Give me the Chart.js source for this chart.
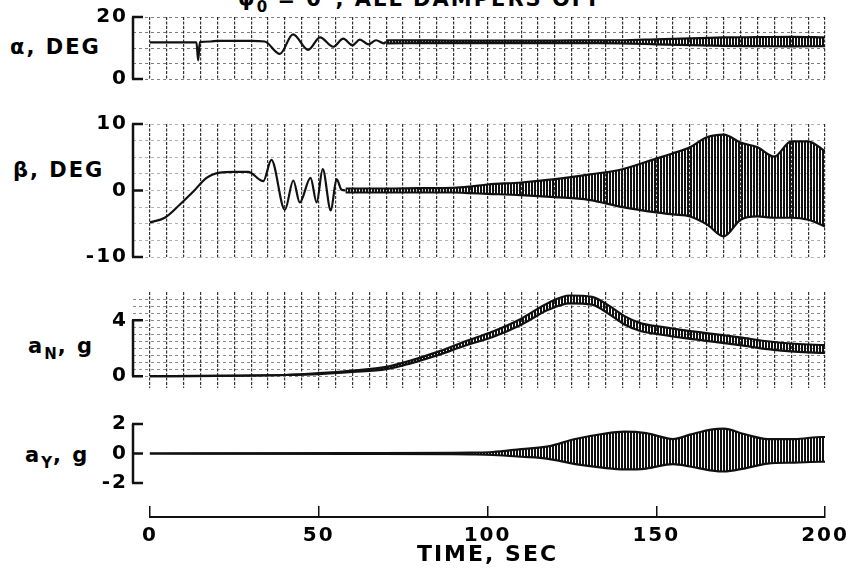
<!DOCTYPE html>
<html>
<head>
<meta charset="utf-8">
<script src="https://cdn.jsdelivr.net/npm/chart.js@4.4.1/dist/chart.umd.min.js"></script>
<style>
  body { margin: 0; background: #fff; width: 857px; height: 583px; overflow: hidden; position: relative; font-family: 'DejaVu Sans', sans-serif; color: #000; }
  .box { position: absolute; left: 0; width: 857px; }
  .lbl { position: absolute; font-size: 21px; font-weight: bold; letter-spacing: 2px; line-height: 1; white-space: nowrap; }
  .lbl sub { font-size: 15px; vertical-align: -6px; letter-spacing: 1px; }
</style>
</head>
<body>
<div class="lbl" style="left:238px; top:-11px;">ψ<sub>0</sub> = 0°, ALL DAMPERS OFF</div>
<div class="lbl" style="left:10px; top:37px;">α, DEG</div>
<div class="lbl" style="left:13px; top:160px;">β, DEG</div>
<div class="lbl" style="left:28px; top:336px;">a<sub>N</sub>, g</div>
<div class="lbl" style="left:25px; top:445px;">a<sub>Y</sub>, g</div>

<div class="box" style="top:0; height:100px;"><canvas id="alpha"></canvas></div>
<div class="box" style="top:100px; height:175px;"><canvas id="beta"></canvas></div>
<div class="box" style="top:275px; height:130px;"><canvas id="an"></canvas></div>
<div class="box" style="top:405px; height:95px;"><canvas id="ay"></canvas></div>
<div class="box" style="top:495px; height:88px;"><canvas id="time"></canvas></div>

<script>
// time axis, sec
const timeTicks = [0, 50, 100, 150, 200];

// alpha, deg - slow part of the trace (peaks and troughs)
const alphaTime  = [0, 5, 10, 13.8, 14.3, 14.8, 18, 20, 25, 30, 34, 38.5, 42.4, 46.9, 50.4, 54.3, 57.3, 60.0, 62.2, 64.7, 67.0, 69.3, 70];
const alphaValue = [11.8, 11.8, 11.8, 11.8, 6.0, 11.9, 12.1, 12.3, 12.3, 12.3, 12.1, 8.1, 14.4, 9.4, 13.4, 10.4, 13.0, 10.9, 12.7, 11.2, 12.5, 11.5, 12.0];
// alpha, fast oscillation envelope
const alphaBandTime = [70, 80, 90, 100, 110, 120, 130, 140, 150, 160, 170, 180, 190, 200];
const alphaUpper    = [12.5, 12.45, 12.4, 12.4, 12.4, 12.4, 12.45, 12.5, 12.8, 13.1, 13.4, 13.5, 13.6, 13.4];
const alphaLower    = [11.5, 11.55, 11.6, 11.6, 11.6, 11.6, 11.55, 11.5, 11.2, 10.9, 10.7, 10.6, 10.5, 10.6];

// beta, deg
const betaTime  = [0, 4.4, 8.9, 12.8, 16.8, 20.7, 25, 29.1, 33.6, 36.0, 40.0, 42.5, 44.4, 47.6, 49.4, 51.2, 53.6, 55.3, 56.8, 58];
const betaValue = [-4.8, -4.1, -2.1, -0.2, 1.9, 2.7, 2.8, 2.8, 1.4, 4.6, -2.9, 1.5, -1.8, 1.9, -1.8, 3.2, -3.0, 1.7, 0.1, 0.0];
const betaBandTime = [58, 70, 80, 90, 95, 100, 110, 120, 130, 140, 150, 155, 160, 165, 170, 175, 180, 185, 190, 195, 200];
const betaUpper    = [0.3, 0.3, 0.35, 0.4, 0.6, 0.9, 1.2, 1.7, 2.4, 3.2, 4.8, 5.6, 6.5, 8.0, 8.4, 7.2, 6.5, 5.1, 7.4, 7.4, 5.9];
const betaLower    = [-0.3, -0.3, -0.3, -0.3, -0.4, -0.5, -0.7, -1.0, -1.4, -2.5, -3.3, -3.6, -3.9, -5.1, -6.9, -4.4, -3.9, -4.1, -4.1, -4.4, -5.4];

// normal acceleration, g
const aNTime  = [0, 20, 40, 50, 60, 70, 77, 85, 93.5, 101.6, 110, 118, 124.4, 131, 136, 140.6, 145.5, 150, 158.5, 166.7, 174.8, 183, 191, 200];
const aNUpper = [0, 0.02, 0.08, 0.21, 0.40, 0.66, 1.10, 1.72, 2.50, 3.20, 4.12, 5.25, 5.78, 5.68, 5.05, 4.30, 3.78, 3.58, 3.28, 3.03, 2.78, 2.50, 2.32, 2.22];
const aNLower = [0, 0.02, 0.08, 0.15, 0.30, 0.50, 0.90, 1.48, 2.20, 2.80, 3.68, 4.75, 5.22, 5.12, 4.45, 3.70, 3.22, 3.02, 2.72, 2.47, 2.22, 1.94, 1.76, 1.66];

// lateral acceleration, g
const aYTime  = [0, 60, 90, 95, 101.6, 110, 118, 126, 134, 140.6, 147, 155, 160, 166.7, 170, 176, 183, 191, 199, 200];
const aYUpper = [0, 0.02, 0.04, 0.06, 0.1, 0.3, 0.48, 0.98, 1.32, 1.48, 1.38, 0.98, 1.28, 1.64, 1.68, 1.32, 0.98, 0.98, 1.12, 1.12];
const aYLower = [0, -0.02, -0.04, -0.06, -0.1, -0.22, -0.36, -0.72, -0.96, -1.08, -1.02, -0.72, -0.88, -1.16, -1.22, -1.02, -0.68, -0.62, -0.56, -0.56];

const ink = '#111';
const tickFont = { family: "'DejaVu Sans', sans-serif", size: 20, weight: 'bold' };

// vertical hatch used to fill the dense oscillation envelopes
const hatch = (() => {
  const c = document.createElement('canvas');
  c.width = 3; c.height = 4;
  const g = c.getContext('2d');
  g.fillStyle = ink;
  g.fillRect(0, 0, 2, 4);
  return g.createPattern(c, 'repeat');
})();

function xy(ts, vs) {
  return ts.map((t, i) => ({ x: t, y: vs[i] }));
}

function trace(ts, vs) {
  return { data: xy(ts, vs), borderColor: ink, borderWidth: 2.2, pointRadius: 0, fill: false, cubicInterpolationMode: 'monotone' };
}

function band(ts, up, lo) {
  return [
    { data: xy(ts, up), borderColor: ink, borderWidth: 2.2, pointRadius: 0, fill: '+1', backgroundColor: hatch, cubicInterpolationMode: 'monotone' },
    { data: xy(ts, lo), borderColor: ink, borderWidth: 2.2, pointRadius: 0, fill: false, cubicInterpolationMode: 'monotone' }
  ];
}

// "[" shaped axis with inward ticks, like the recorder sheet
const bracket = {
  id: 'bracket',
  afterDraw(chart, args, opts) {
    const y = chart.scales.y, ctx = chart.ctx, x0 = chart.chartArea.left;
    ctx.save();
    ctx.strokeStyle = ink;
    ctx.lineWidth = 2.5;
    ctx.beginPath();
    ctx.moveTo(x0, y.getPixelForValue(opts.from));
    ctx.lineTo(x0, y.getPixelForValue(opts.to));
    opts.marks.forEach(v => {
      const py = y.getPixelForValue(v);
      ctx.moveTo(x0 - 1, py);
      ctx.lineTo(x0 + 10, py);
    });
    ctx.stroke();
    ctx.restore();
  }
};

// wide lettering
const spacing = {
  id: 'spacing',
  beforeLayout(chart) { chart.ctx.letterSpacing = '2px'; },
  beforeDraw(chart) { chart.ctx.letterSpacing = '2px'; }
};

const onStep = (v, step) => Math.abs(v / step - Math.round(v / step)) < 1e-6;

function panel(id, cfg) {
  new Chart(document.getElementById(id), {
    type: 'line',
    data: { datasets: cfg.datasets },
    options: {
      animation: false,
      responsive: true,
      maintainAspectRatio: false,
      layout: { padding: { left: 0, right: 32, top: cfg.padTop, bottom: cfg.padBottom } },
      plugins: {
        legend: { display: false },
        tooltip: { enabled: false },
        bracket: { from: cfg.labels[0], to: cfg.labels[cfg.labels.length - 1], marks: cfg.labels }
      },
      scales: {
        x: {
          type: 'linear', min: -5, max: 200,
          afterFit: s => { s.height = 0; },
          afterBuildTicks: s => { s.ticks = s.ticks.filter(t => t.value >= 0); },
          ticks: { display: false, stepSize: 5 },
          grid: { display: cfg.xGrid, drawTicks: false, color: 'rgba(0,0,0,0.8)', lineWidth: 1.2 },
          border: { display: false, dash: [3, 1.5] }
        },
        y: {
          min: cfg.min, max: cfg.max,
          afterFit: s => { s.width = 133; },
          afterBuildTicks: s => { s.ticks = s.ticks.filter(t => onStep(t.value, cfg.step)); },
          ticks: {
            stepSize: cfg.step, autoSkip: false, padding: 5, color: '#000', font: tickFont,
            callback: v => cfg.labels.some(l => Math.abs(l - v) < 1e-6) ? String(v) : ''
          },
          grid: { display: cfg.yGrid, drawTicks: false, color: cfg.yGridColor, lineWidth: 1 },
          border: { display: false, dash: [3, 3] }
        }
      }
    },
    plugins: [bracket, spacing]
  });
}

panel('alpha', {
  datasets: [...band(alphaBandTime, alphaUpper, alphaLower), trace(alphaTime, alphaValue)],
  min: 0, max: 20, step: 5, labels: [0, 20],
  padTop: 15, padBottom: 21, xGrid: true, yGrid: true, yGridColor: 'rgba(0,0,0,0.5)'
});

panel('beta', {
  datasets: [...band(betaBandTime, betaUpper, betaLower), trace(betaTime, betaValue)],
  min: -10, max: 10, step: 2.5, labels: [-10, 0, 10],
  padTop: 24, padBottom: 18, xGrid: true, yGrid: true, yGridColor: 'rgba(0,0,0,0.3)'
});

panel('an', {
  datasets: band(aNTime, aNUpper, aNLower),
  min: -0.85, max: 6.03, step: 0.5, labels: [0, 4],
  padTop: 17, padBottom: 8, xGrid: true, yGrid: true, yGridColor: 'rgba(0,0,0,0.45)'
});

panel('ay', {
  datasets: band(aYTime, aYUpper, aYLower),
  min: -2, max: 2, step: 2, labels: [-2, 0, 2],
  padTop: 19, padBottom: 9, xGrid: false, yGrid: false, yGridColor: 'transparent'
});

// separate time axis under the panels
new Chart(document.getElementById('time'), {
  type: 'line',
  data: { datasets: [] },
  options: {
    animation: false,
    responsive: true,
    maintainAspectRatio: false,
    layout: { padding: { left: 150, right: 32, top: 11, bottom: 15 } },
    plugins: { legend: { display: false }, tooltip: { enabled: false } },
    scales: {
      x: {
        type: 'linear', min: 0, max: 200,
        afterFit: s => { s.height = 51; },
        afterBuildTicks: s => { s.ticks = timeTicks.map(v => ({ value: v })); },
        ticks: { padding: 7, color: '#000', font: tickFont, maxRotation: 0 },
        grid: { drawTicks: false, color: ink, lineWidth: 1.5 },
        border: { display: true, color: ink, width: 2 },
        title: { display: true, text: 'TIME, SEC', color: '#000', font: { family: "'DejaVu Sans', sans-serif", size: 22, weight: 'bold' }, padding: 0 }
      },
      y: { display: false }
    }
  },
  plugins: [spacing]
});
</script>
</body>
</html>
